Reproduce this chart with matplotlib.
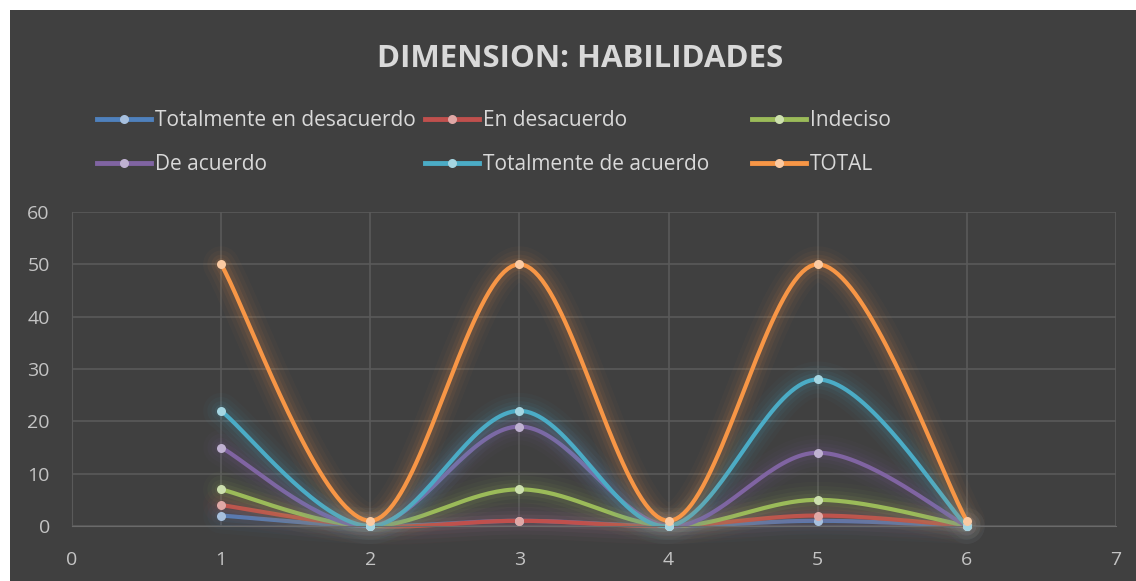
import numpy as np
import matplotlib; matplotlib.use("Agg")
import matplotlib.pyplot as plt
from matplotlib.lines import Line2D
from matplotlib.patches import Rectangle

plt.rcParams['font.family'] = ['Open Sans', 'DejaVu Sans']

x = [1, 2, 3, 4, 5, 6]
tot_desacuerdo = [2, 0, 1, 0, 1, 0]
en_desacuerdo = [4, 0, 1, 0, 2, 0]
indeciso = [7, 0, 7, 0, 5, 0]
de_acuerdo = [15, 0, 19, 0, 14, 0]
tot_acuerdo = [22, 0, 22, 0, 28, 0]
total = [50, 1, 50, 1, 50, 1]

labels = ["Totalmente en desacuerdo", "En desacuerdo", "Indeciso",
          "De acuerdo", "Totalmente de acuerdo", "TOTAL"]
series = [tot_desacuerdo, en_desacuerdo, indeciso, de_acuerdo, tot_acuerdo, total]
colors = ["#4f81bd", "#c0504d", "#9bbb59", "#8064a2", "#4bacc6", "#f79646"]
mcolors = ["#a7c0de", "#e0a8a6", "#cde0ae", "#bfb1d1", "#a5d6e2", "#fbcaa2"]

BG = "#404040"
GRID = "#5a5a5a"
TXT = "#d9d9d9"


def smooth(xs, ys, n=40):
    # Excel-style smoothed line (Catmull-Rom / cubic Bezier)
    P = np.column_stack([xs, ys]).astype(float)
    P = np.vstack([P[0], P, P[-1]])
    out = []
    t = np.linspace(0, 1, n)[:, None]
    for i in range(1, len(P) - 2):
        p0, p3 = P[i], P[i + 1]
        c1 = p0 + (P[i + 1] - P[i - 1]) / 6
        c2 = p3 - (P[i + 2] - P[i]) / 6
        seg = (1 - t) ** 3 * p0 + 3 * (1 - t) ** 2 * t * c1 + 3 * (1 - t) * t ** 2 * c2 + t ** 3 * p3
        out.append(seg if i == 1 else seg[1:])
    s = np.vstack(out)
    return s[:, 0], s[:, 1]


fig = plt.figure(figsize=(11.36, 5.81), dpi=100, facecolor="white")
fig.patches.append(Rectangle((10 / 1136, 0), 1, 1 - 10 / 581, transform=fig.transFigure,
                             facecolor=BG, edgecolor="none", zorder=-10))

ax = fig.add_axes([72 / 1136, 1 - 526 / 581, (1116 - 72) / 1136, (526 - 212) / 581])
ax.set_facecolor(BG)
ax.set_xlim(0, 7)
ax.set_ylim(0, 60)
ax.set_xticks(range(0, 8))
ax.set_yticks(range(0, 61, 10))
ax.grid(True, color=GRID, linewidth=1.2)
ax.set_axisbelow(True)
for s in ("top", "right"):
    ax.spines[s].set_visible(False)
ax.spines["left"].set_color(GRID)
ax.spines["bottom"].set_color("#6a6a6a")
ax.tick_params(length=0, labelsize=14, labelcolor="#c4c4c4")
ax.tick_params(axis="y", pad=16)
ax.tick_params(axis="x", pad=18)

for ys, c, mc in zip(series, colors, mcolors):
    sx, sy = smooth(x, ys)
    for lw, a in [(26, 0.03), (20, 0.045), (14, 0.06), (9, 0.09)]:
        ax.plot(sx, sy, color=c, lw=lw, alpha=a, solid_capstyle="round", clip_on=False)
    ax.plot(sx, sy, color=c, lw=3.0, solid_capstyle="round", clip_on=False)
    ax.plot(x, ys, "o", color=mc, ms=6.5, mec="none", clip_on=False, zorder=3)

fig.text(0.511, 1 - 59 / 581, "DIMENSION: HABILIDADES", ha="center", va="center",
         fontsize=22.5, fontweight="bold", color=TXT)

# legend laid out row-wise like the reference, three columns
handles = [Line2D([], [], color=c, lw=3.5, marker="o", ms=6.5, mfc=mc, mec="none")
           for c, mc in zip(colors, mcolors)]
col_x = [97, 425, 752]
for j in range(3):
    fig.legend([handles[j], handles[j + 3]], [labels[j], labels[j + 3]],
               loc="upper left", bbox_to_anchor=(col_x[j] / 1136, 1 - 110 / 581),
               frameon=False, fontsize=15, labelcolor=TXT, handlelength=2.6,
               handletextpad=0.2, labelspacing=1.12, borderpad=0, borderaxespad=0)

fig.savefig("out.png", dpi=100, facecolor="white")
